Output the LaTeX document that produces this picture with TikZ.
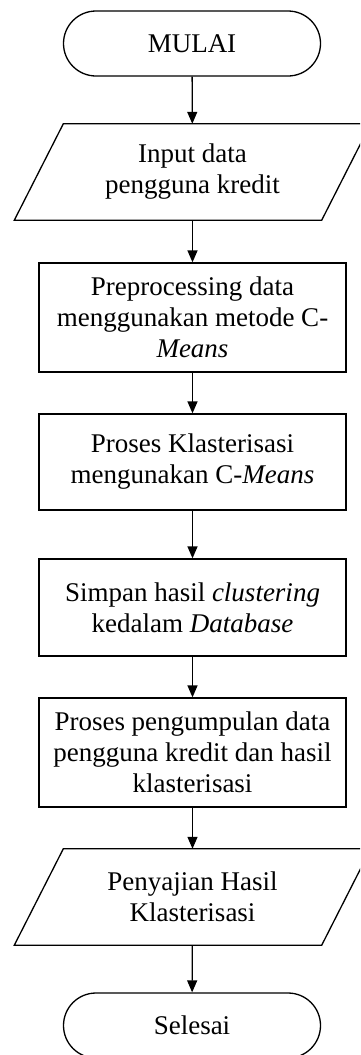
\documentclass[tikz,border=0pt]{standalone}
\usepackage{fontspec}
\setmainfont{Liberation Serif}
\usetikzlibrary{arrows.meta}
\begin{document}
\begin{tikzpicture}[x=1pt, y=-1pt,
  every node/.style={font=\fontsize{27}{31}\selectfont, align=center, inner sep=0pt},
  term/.style={draw, line width=1.3pt, rounded corners=32.5pt, minimum width=257pt, minimum height=65pt},
  proc/.style={draw, line width=1.3pt, minimum width=307pt},
  io/.style={minimum width=307pt},
  flow/.style={line width=1.3pt, -{Triangle[width=10pt,length=12pt]}}]
  \clip (0,0) rectangle (360,1055);

  % terminators, process boxes and input/output blocks
  \node[term] (start) at (192,43.5) {MULAI};
  \node[io, minimum height=96pt] (input) at (192.5,172) {Input data\\pengguna kredit};
  \node[proc, minimum height=109pt] (prep) at (192.5,317.5) {Preprocessing data\\menggunakan metode C-\\\textit{Means}};
  \node[proc, minimum height=96pt] (klas) at (192.5,462) {Proses Klasterisasi\\mengunakan C-\textit{Means}};
  \node[proc, minimum height=97pt] (simpan) at (192.5,607.5) {Simpan hasil \textit{clustering}\\kedalam \textit{Database}};
  \node[proc, minimum height=109pt] (kumpul) at (192.5,752.5) {Proses pengumpulan data\\pengguna kredit dan hasil\\klasterisasi};
  \node[io, minimum height=96pt] (output) at (192.5,897) {Penyajian Hasil\\Klasterisasi};
  \node[term] (stop) at (192,1025.5) {Selesai};

  % slanted outlines of the input/output blocks
  \foreach \n in {input, output}
    \draw[line width=1.3pt, line join=miter]
      ([xshift=24.5pt]\n.north west) -- ([xshift=24.5pt]\n.north east)
      -- ([xshift=-24.5pt]\n.south east) -- ([xshift=-24.5pt]\n.south west) -- cycle;

  % connectors
  \draw[flow] (start) -- (input);
  \draw[flow] (input) -- (prep);
  \draw[flow] (prep) -- (klas);
  \draw[flow] (klas) -- (simpan);
  \draw[flow] (simpan) -- (kumpul);
  \draw[flow] (kumpul) -- (output);
  \draw[flow] (output) -- (stop);
\end{tikzpicture}
\end{document}
